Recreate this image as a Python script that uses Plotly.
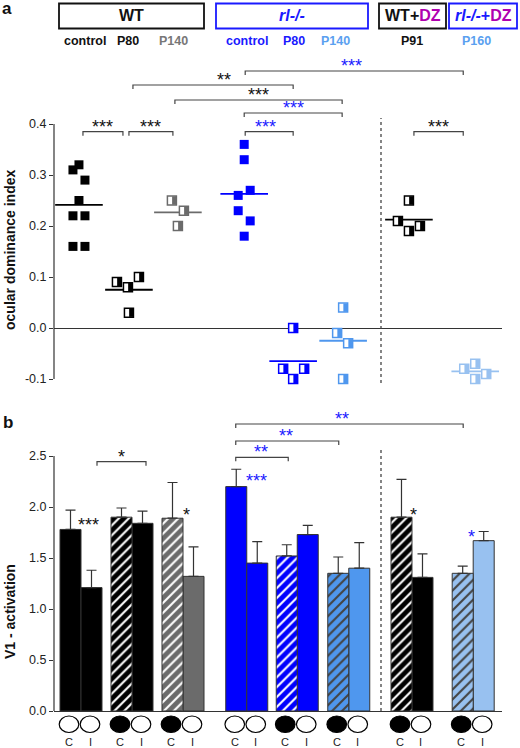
import plotly.graph_objects as go
import numpy as np

FONT = "Arial, 'Liberation Sans', Helvetica, sans-serif"

# ---------------- data ----------------
group_names = ["WT control", "WT P80", "WT P140", "rl-/- control", "rl-/- P80",
               "rl-/- P140", "WT+DZ P91", "rl-/-+DZ P160"]
group_colors = ["#000000", "#000000", "#6b6b6b", "#0000ff", "#0000ff",
                "#4f97ee", "#000000", "#98c1f0"]
group_half = [False, True, True, False, True, True, True, True]

# panel a: ocular dominance index per animal
od_wt_control = [0.31, 0.32, 0.29, 0.25, 0.22, 0.22, 0.16, 0.16]
od_wt_p80 = [0.09, 0.08, 0.10, 0.03]
od_wt_p140 = [0.25, 0.23, 0.20]
od_rl_control = [0.36, 0.33, 0.26, 0.27, 0.23, 0.21, 0.18]
od_rl_p80 = [0.00, -0.08, -0.08, -0.10]
od_rl_p140 = [0.04, -0.01, -0.03, -0.10]
od_wtdz_p91 = [0.25, 0.21, 0.19, 0.20]
od_rldz_p160 = [-0.08, -0.07, -0.09, -0.10]
od_values = [od_wt_control, od_wt_p80, od_wt_p140, od_rl_control,
             od_rl_p80, od_rl_p140, od_wtdz_p91, od_rldz_p160]

# panel b: V1 activation (C = contralateral, I = ipsilateral eye)
eye_labels = ["C", "I"] * 8
act_mean = [1.78, 1.21, 1.90, 1.84, 1.89, 1.32, 2.20, 1.45,
            1.52, 1.73, 1.35, 1.40, 1.90, 1.31, 1.35, 1.67]
act_err = [0.19, 0.17, 0.09, 0.12, 0.35, 0.29, 0.17, 0.21,
           0.11, 0.09, 0.16, 0.25, 0.37, 0.23, 0.07, 0.09]
eye_closed = [0, 0, 1, 0, 1, 0, 0, 0, 1, 0, 1, 0, 1, 0, 1, 0]

a_ticks = [-0.1, 0.0, 0.1, 0.2, 0.3, 0.4]
a_ticktext = ["-0.1", "0.0", "0.1", "0.2", "0.3", "0.4"]
b_ticks = [0.0, 0.5, 1.0, 1.5, 2.0, 2.5]
b_ticktext = ["0.0", "0.5", "1.0", "1.5", "2.0", "2.5"]

# ---------------- layout helpers ----------------
W, H = 520, 748
L, R = 54, 502
PXU = 51.0                       # pixels per x unit
X_RANGE = [(L - 81) / PXU, (R - 81) / PXU]
pos_b = [0, 1, 2, 3.25, 4.24, 5.25, 6.49, 7.69]
pos_a = [-0.04, 0.94, 1.90, 3.20, 4.16, 5.14, 6.43, 7.73]
jitter_px = [[-6, 0, 6, 0, -6, 6, -6, 6],
             [-12, -1, 10, 0],
             [-6, 6, 0],
             [0, 0, -6, 6, -6, 6, 0],
             [0, -10, 11, 0],
             [0, -6, 5, 0],
             [0, -11, 0, 11],
             [-11, 0, 11, 0]]


def ux(px):
    return px / PXU


def PX(px):
    return (px - L) / (R - L)


def PY(py):
    return (H - py) / H


A_TOP, A_BOT = 30, 392
B_TOP, B_BOT = 405, 748


def a_val(py):
    return (328 - py) / 510.0


def b_val(py):
    return (711 - py) / 102.0


fig = go.Figure()

# ---------------- panel a ----------------
for g, vals in enumerate(od_values):
    col = group_colors[g]
    xs = [pos_a[g] + ux(j) for j in jitter_px[g]]
    fig.add_trace(go.Scatter(
        x=[pos_a[g]], y=[float(np.mean(vals))], mode="markers",
        marker=dict(symbol="line-ew", size=34, line=dict(color=col, width=1.8)),
        xaxis="x", yaxis="y", showlegend=False, hoverinfo="skip"))
    if group_half[g]:
        fig.add_trace(go.Scatter(
            x=xs, y=vals, mode="markers",
            marker=dict(symbol="square", size=9, color="white",
                        line=dict(color=col, width=1.5)),
            xaxis="x", yaxis="y", showlegend=False))
        fig.add_trace(go.Scatter(
            x=[v + ux(2.2) for v in xs], y=vals, mode="markers",
            marker=dict(symbol="line-ns", size=6, line=dict(color=col, width=4)),
            xaxis="x", yaxis="y", showlegend=False, hoverinfo="skip"))
    else:
        fig.add_trace(go.Scatter(
            x=xs, y=vals, mode="markers",
            marker=dict(symbol="square", size=9, color=col, line=dict(width=0)),
            xaxis="x", yaxis="y", showlegend=False))

# ---------------- panel b ----------------
bar_x = []
for g in range(8):
    bar_x += [pos_b[g] - ux(10.5), pos_b[g] + ux(10.5)]
bar_col = [group_colors[i // 2] for i in range(16)]

for hatched in (0, 1):
    idx = [i for i in range(16) if eye_closed[i] == hatched]
    marker = dict(color=[bar_col[i] for i in idx], line=dict(color="#333333", width=1))
    if hatched:
        marker["pattern"] = dict(shape="/", fillmode="overlay", fgcolor="white",
                                 fgopacity=1, size=7, solidity=0.3)
    fig.add_trace(go.Bar(
        x=[bar_x[i] for i in idx], y=[act_mean[i] for i in idx],
        width=ux(21), marker=marker,
        error_y=dict(type="data", symmetric=False, array=[act_err[i] for i in idx],
                     arrayminus=[0] * len(idx), color="#333333", thickness=1.2, width=5),
        xaxis="x2", yaxis="y2", showlegend=False))

shapes = []
annotations = []


def note(**kw):
    kw.setdefault("showarrow", False)
    kw.setdefault("xanchor", "center")
    kw.setdefault("yanchor", "middle")
    annotations.append(kw)


# eye circles and C/I labels
for i in range(16):
    cx = bar_x[i] - ux(1.5)
    shapes.append(dict(type="circle", xref="x2", yref="y2",
                       x0=cx - ux(9.8), x1=cx + ux(9.8),
                       y0=b_val(732.5), y1=b_val(716),
                       fillcolor="black" if eye_closed[i] else "white",
                       line=dict(color="black", width=1.2)))
    note(x=cx, y=b_val(741.5), xref="x2", yref="y2", text=eye_labels[i],
         font=dict(size=11, color="#222", family=FONT))

BLUE = "#1a1aff"


def bracket(xr, yr, x1, x2, y, tick, label, color, tdx=0.0):
    shapes.append(dict(type="path", xref=xr, yref=yr,
                       path=f"M{x1},{y - tick} L{x1},{y} L{x2},{y} L{x2},{y - tick}",
                       line=dict(color="#444", width=1.2)))
    note(x=(x1 + x2) / 2 + tdx, y=y, xref=xr, yref=yr, text=label, yshift=5,
         font=dict(size=18, color=color, family=FONT))


# panel a brackets: (g1, dx1 px, g2, dx2 px, y px, label, color, text dx px)
a_brackets = [(0, 4, 1, -6, 131.7, "***", "#111", 0),
              (1, 0, 2, -5, 131.7, "***", "#111", 0),
              (3, 1, 4, 0, 131.7, "***", BLUE, -4),
              (3, 0, 5, -1, 113, "***", BLUE, 0),
              (2, -3, 5, -1, 100, "***", "#111", 0),
              (1, 4, 4, 0, 85, "**", "#111", 11),
              (3, 1, 7, -12, 71, "***", BLUE, -3),
              (6, 5, 7, -12, 131.7, "***", "#111", 0)]
for g1, d1, g2, d2, ypx, lab, col, tdx in a_brackets:
    bracket("x", "y", pos_a[g1] + ux(d1), pos_a[g2] + ux(d2), a_val(ypx),
            4 / 510.0, lab, col, ux(tdx))

# panel b brackets
b_brackets = [(0, 16, 1, 14, 461.7, "*", "#111", 0),
              (3, -11, 7, -10, 424, "**", BLUE, -7),
              (3, -11, 5, -10, 441, "**", BLUE, -1),
              (3, -11, 4, -9, 457.3, "**", BLUE, -1)]
for g1, d1, g2, d2, ypx, lab, col, tdx in b_brackets:
    bracket("x2", "y2", pos_b[g1] + ux(d1), pos_b[g2] + ux(d2), b_val(ypx),
            4 / 102.0, lab, col, ux(tdx))

# panel b standalone significance marks: (group, dx px, y px, label, color)
b_stars = [(0, 7, 521, "***", "#111"), (3, 10, 477, "***", BLUE),
           (2, 3, 511, "*", "#111"), (6, 2, 511, "*", "#111"),
           (7, -2, 533, "*", BLUE)]
for g, dx, ypx, lab, col in b_stars:
    note(x=pos_b[g] + ux(dx), y=b_val(ypx), xref="x2", yref="y2", text=lab, yshift=-4,
         font=dict(size=18, color=col, family=FONT))

# dashed separators
shapes.append(dict(type="line", xref="x", yref="y", x0=ux(381 - 81), x1=ux(381 - 81),
                   y0=a_val(383), y1=a_val(118), line=dict(color="#444", width=1.3, dash="dot")))
shapes.append(dict(type="line", xref="x2", yref="y2", x0=ux(381 - 81), x1=ux(381 - 81),
                   y0=0, y1=b_val(450), line=dict(color="#444", width=1.3, dash="dot")))

# y-axis spines
shapes.append(dict(type="line", xref="paper", yref="y", x0=0, x1=0, y0=-0.1, y1=0.4,
                   line=dict(color="#333", width=1.2)))
shapes.append(dict(type="line", xref="paper", yref="y2", x0=0, x1=0, y0=0, y1=2.5,
                   line=dict(color="#333", width=1.2)))

# header boxes
boxes = [(59, 204, "#111", "<b>WT</b>"),
         (216, 368, "#1a1aff", "<b><i>rl-/-</i></b>"),
         (379, 446, "#111", "<b>WT+<span style='color:#b000b0'>DZ</span></b>"),
         (449, 517, "#1a1aff", "<b><i>rl-/-</i>+<span style='color:#b000b0'>DZ</span></b>")]
for x0, x1, col, txt in boxes:
    shapes.append(dict(type="rect", xref="paper", yref="paper",
                       x0=PX(x0), x1=PX(x1), y0=PY(28.5), y1=PY(3.5),
                       line=dict(color=col, width=1.8), fillcolor="white"))
    note(x=PX((x0 + x1) / 2), y=PY(16), xref="paper", yref="paper", text=txt,
         font=dict(size=16, color=col, family=FONT))

sub_labels = [(85, "control", "#111"), (128, "P80", "#111"), (173, "P140", "#777"),
              (247, "control", "#1a1aff"), (294, "P80", "#1a1aff"),
              (335, "P140", "#5aa0f0"), (412, "P91", "#111"), (476, "P160", "#5aa0f0")]
for xpx, txt, col in sub_labels:
    note(x=PX(xpx), y=PY(41), xref="paper", yref="paper", text=f"<b>{txt}</b>",
         font=dict(size=12.5, color=col, family=FONT))

# panel letters and axis titles
note(x=PX(7), y=PY(8), xref="paper", yref="paper", text="<b>a</b>",
     font=dict(size=17, color="#111", family=FONT))
note(x=PX(8), y=PY(422), xref="paper", yref="paper", text="<b>b</b>",
     font=dict(size=17, color="#111", family=FONT))
note(x=PX(10), y=PY(250), xref="paper", yref="paper", text="<b>ocular dominance index</b>",
     textangle=-90, font=dict(size=14, color="#111", family=FONT))
note(x=PX(10), y=PY(612), xref="paper", yref="paper", text="<b>V1 - activation</b>",
     textangle=-90, font=dict(size=14, color="#111", family=FONT))

axis_common = dict(showgrid=False, showline=False, ticks="outside", ticklen=4,
                   tickcolor="#333", tickwidth=1.2, automargin=False,
                   tickfont=dict(size=12.5, color="#222", family=FONT),
                   zeroline=True, zerolinecolor="#333", zerolinewidth=1.2)

fig.update_layout(
    width=W, height=H, margin=dict(l=L, r=W - R, t=0, b=0),
    paper_bgcolor="white", plot_bgcolor="white",
    font=dict(family=FONT), barmode="overlay", showlegend=False,
    xaxis=dict(domain=[0, 1], range=X_RANGE, visible=False, anchor="y"),
    xaxis2=dict(domain=[0, 1], range=X_RANGE, visible=False, anchor="y2"),
    yaxis=dict(domain=[PY(A_BOT), PY(A_TOP)], range=[a_val(A_BOT), a_val(A_TOP)],
               tickvals=a_ticks, ticktext=a_ticktext, anchor="x", **axis_common),
    yaxis2=dict(domain=[PY(B_BOT), PY(B_TOP)], range=[b_val(B_BOT), b_val(B_TOP)],
                tickvals=b_ticks, ticktext=b_ticktext, anchor="x2", **axis_common),
    shapes=shapes, annotations=annotations,
)

fig.write_html("out.html", config={"displayModeBar": False},
               post_script="document.body.style.margin='0';document.body.style.overflow='hidden';")
